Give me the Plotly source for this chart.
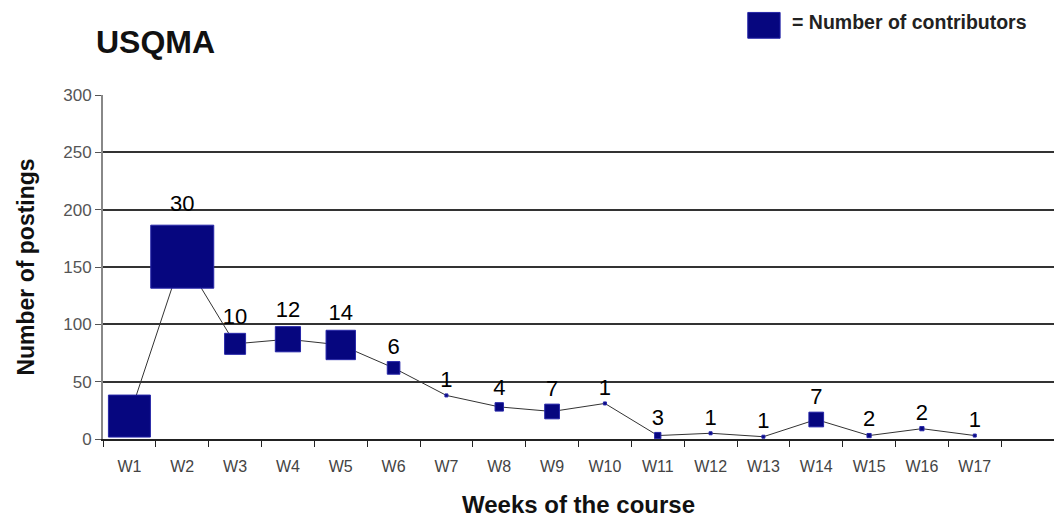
import plotly.graph_objects as go

weeks = ["W1", "W2", "W3", "W4", "W5", "W6", "W7", "W8", "W9", "W10",
         "W11", "W12", "W13", "W14", "W15", "W16", "W17"]
postings = [20, 159, 83, 87, 82, 62, 38, 28, 24, 31, 3, 5, 2, 17, 3, 9, 3]
contributors = [20, 30, 10, 12, 14, 6, 1, 4, 7, 1, 3, 1, 1, 7, 2, 2, 1]
shown_labels = ["", "30", "10", "12", "14", "6", "1", "4", "7", "1",
                "3", "1", "1", "7", "2", "2", "1"]

FONT = "Liberation Sans, Arial, sans-serif"
NAVY = "#06067f"
EDGE = "#2626a8"

sizes = [max(3, 2.1 * c) for c in contributors]

fig = go.Figure()
fig.add_trace(go.Scatter(
    x=weeks, y=postings, mode="lines+markers+text",
    line=dict(color="#333333", width=1),
    marker=dict(symbol="square", size=sizes, color=NAVY, opacity=1,
                line=dict(color=EDGE, width=1)),
    text=shown_labels, textposition="top center",
    textfont=dict(family=FONT, size=22, color="#000000"),
    cliponaxis=False, showlegend=False,
))

fig.update_layout(
    width=1054, height=525,
    margin=dict(l=103, r=0, t=95, b=86),
    paper_bgcolor="white", plot_bgcolor="white",
    font=dict(family=FONT, color="#333333"),
    xaxis=dict(
        type="category", categoryorder="array", categoryarray=weeks,
        range=[-0.5, 17.5], tickson="boundaries",
        ticks="outside", ticklen=6, tickcolor="#222222", tickwidth=1,
        ticklabelstandoff=12,
        showline=True, linecolor="#222222", linewidth=2,
        showgrid=False,
        tickfont=dict(family=FONT, size=16, color="#444444"),
        title=dict(text="<b>Weeks of the course</b>", standoff=22,
                   font=dict(family=FONT, size=24, color="#111111")),
    ),
    yaxis=dict(
        range=[0, 300], tickvals=[0, 50, 100, 150, 200, 250, 300],
        ticks="outside", ticklen=6, tickcolor="#555555",
        showline=True, linecolor="#888888", linewidth=2,
        showgrid=True, gridcolor="#333333", gridwidth=1.5,
        zeroline=False,
        tickfont=dict(family=FONT, size=17, color="#555555"),
        title=dict(text="<b>Number of postings</b>", standoff=22,
                   font=dict(family=FONT, size=23, color="#111111")),
    ),
)

fig.add_annotation(text="<b>USQMA</b>", xref="paper", yref="paper",
                   x=-0.009, y=1.155, xanchor="left", yanchor="middle",
                   showarrow=False, font=dict(family=FONT, size=32, color="#111111"))
fig.add_annotation(text="<b>= Number of contributors</b>", xref="paper", yref="paper",
                   x=0.722, y=1.212, xanchor="left", yanchor="middle",
                   showarrow=False, font=dict(family=FONT, size=19.5, color="#222222"))
fig.add_shape(type="rect", xref="paper", yref="paper",
              x0=0.678, x1=0.712, y0=1.165, y1=1.24,
              fillcolor=NAVY, line=dict(color=EDGE, width=1))

fig.write_html("out.html", config={"displayModeBar": False},
               post_script="document.body.style.margin='0px';")
